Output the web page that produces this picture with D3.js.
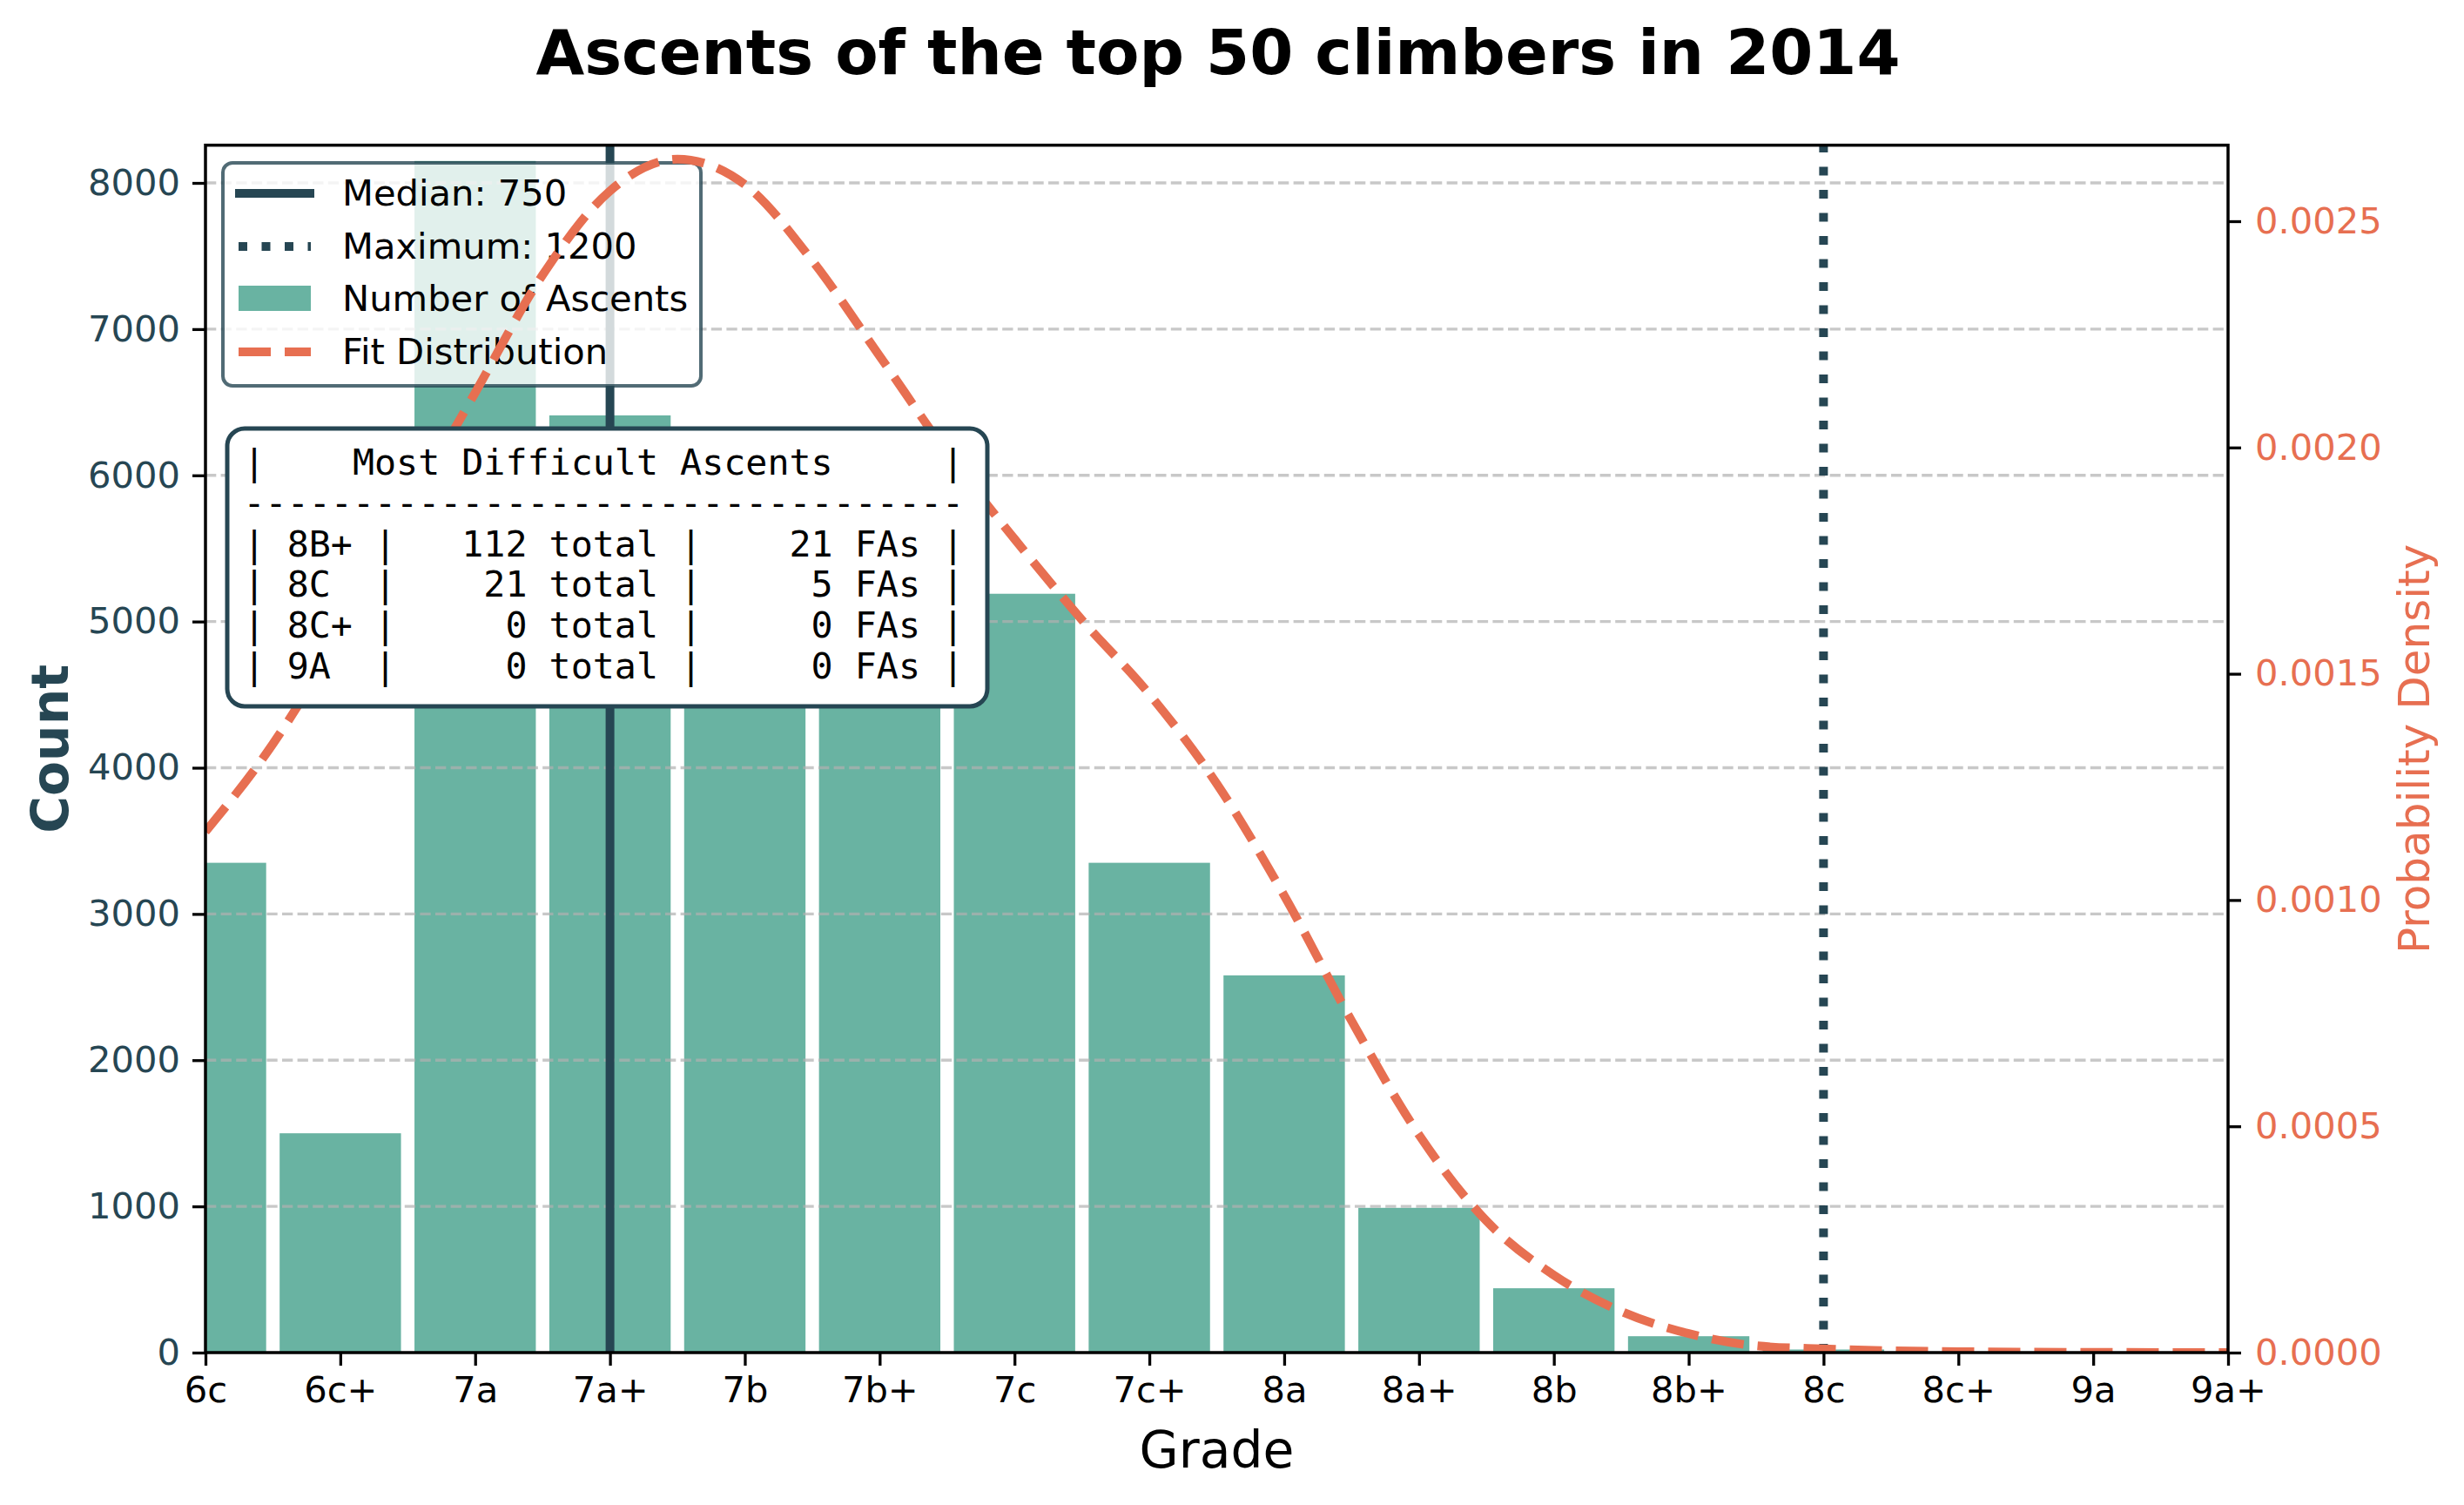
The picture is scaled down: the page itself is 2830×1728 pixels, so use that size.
<!DOCTYPE html>
<html>
<head>
<meta charset="utf-8">
<script src="https://cdn.jsdelivr.net/npm/d3@7"></script>
<style>
body { margin: 0; background: #ffffff; }
text { font-family: "DejaVu Sans", sans-serif; }
</style>
</head>
<body>
<svg></svg>
<script>
// data
var gradeLabels = ["6c","6c+","7a","7a+","7b","7b+","7c","7c+","8a","8a+","8b","8b+","8c","8c+","9a","9a+"]
var gradeScores = [600,650,700,750,800,850,900,950,1000,1050,1100,1150,1200,1250,1300,1350]
var ascentCounts = [3350,1500,8150,6410,5900,5600,5190,3350,2580,990,440,112,21,0,0,0]

var fitScores = [600,625,650,675,700,725,750,775,800,825,850,875,900,925,950,975,
                 1000,1025,1050,1075,1100,1125,1150,1175,1200,1225,1250,1275,1300,1325,1350]
var fitDensity = [0.001151,0.001345,0.001586,0.001859,0.002121,0.002381,0.002567,0.002637,
                  0.002581,0.002413,0.002202,0.001988,0.001798,0.001619,0.001455,0.001257,
                  0.001010,0.000733,0.000481,0.000291,0.000171,0.000091,0.000042,0.000015,
                  0.000008,0.000004,0.000002,0.000001,0.0000005,0.0000002,0.0000001]

var countTicks = [0,1000,2000,3000,4000,5000,6000,7000,8000]
var densityTicks = [0,0.0005,0.0010,0.0015,0.0020,0.0025]

var medianScore = 750
var maxScore = 1200

var tableTitle = "Most Difficult Ascents"
var tableGrades = ["8B+","8C","8C+","9A"]
var tableTotals = [112,21,0,0]
var tableFAs = [21,5,0,0]

var legendLabels = ["Median: 750","Maximum: 1200","Number of Ascents","Fit Distribution"]

//colours
var dark = "#264653"
var teal = "#69b3a2"
var orange = "#e76f51"

var screen = {width:2830, height:1728}
var plot = {left:236, right:2559, top:166.7, bottom:1553}

var svg = d3.select("svg")
    .attr("width", screen.width)
    .attr("height", screen.height)

svg.append("rect").attr("width", screen.width).attr("height", screen.height).attr("fill", "#fff")

svg.append("defs").append("clipPath").attr("id","plotclip")
    .append("rect")
    .attr("x", plot.left).attr("y", plot.top)
    .attr("width", plot.right - plot.left).attr("height", plot.bottom - plot.top)

var xScale = d3.scaleLinear()
    .domain([600,1350])
    .range([plot.left, plot.right])

var yScale = d3.scaleLinear()
    .domain([0,8258])
    .range([plot.bottom, plot.top])

var y2Scale = d3.scaleLinear()
    .domain([0,0.002668])
    .range([plot.bottom, plot.top])

var barW = xScale(645) - xScale(600)

//bars
svg.append("g").attr("clip-path","url(#plotclip)")
    .selectAll("rect")
    .data(ascentCounts)
    .enter()
    .append("rect")
    .attr("x", function(d,i){ return xScale(gradeScores[i]) - barW/2 })
    .attr("y", function(d){ return yScale(d) })
    .attr("width", barW)
    .attr("height", function(d){ return yScale(0) - yScale(d) })
    .attr("fill", teal)

//grid
svg.append("g")
    .selectAll("line")
    .data(countTicks.slice(1))
    .enter()
    .append("line")
    .attr("x1", plot.left).attr("x2", plot.right)
    .attr("y1", function(d){ return yScale(d) })
    .attr("y2", function(d){ return yScale(d) })
    .attr("stroke", "#b0b0b0")
    .attr("stroke-opacity", 0.7)
    .attr("stroke-width", 3.3)
    .attr("stroke-dasharray", "12.3,5.3")

//median and max lines
svg.append("line")
    .attr("x1", xScale(medianScore)).attr("x2", xScale(medianScore))
    .attr("y1", plot.bottom).attr("y2", plot.top)
    .attr("stroke", dark).attr("stroke-width", 10)

svg.append("line")
    .attr("x1", xScale(maxScore)).attr("x2", xScale(maxScore))
    .attr("y1", plot.bottom).attr("y2", plot.top)
    .attr("stroke", dark).attr("stroke-width", 10)
    .attr("stroke-dasharray", "10,16.5")

//legend
var legend = svg.append("g")
legend.append("rect")
    .attr("x", 256).attr("y", 187).attr("width", 549).attr("height", 256)
    .attr("rx", 11).attr("ry", 11)
    .attr("fill", "#fff").attr("fill-opacity", 0.8)
    .attr("stroke", dark).attr("stroke-opacity", 0.8).attr("stroke-width", 4)

var rowY = [222, 283, 343, 404]
legend.append("line").attr("x1", 270).attr("x2", 361).attr("y1", rowY[0]).attr("y2", rowY[0])
    .attr("stroke", dark).attr("stroke-width", 10)
legend.append("line").attr("x1", 274).attr("x2", 357).attr("y1", rowY[1]).attr("y2", rowY[1])
    .attr("stroke", dark).attr("stroke-width", 10).attr("stroke-dasharray", "10,16.5")
legend.append("rect").attr("x", 274).attr("y", rowY[2]-15).attr("width", 83).attr("height", 29)
    .attr("fill", teal)
legend.append("line").attr("x1", 274).attr("x2", 357).attr("y1", rowY[3]).attr("y2", rowY[3])
    .attr("stroke", orange).attr("stroke-width", 10).attr("stroke-dasharray", "37,16")

legend.selectAll("text.leg")
    .data(legendLabels)
    .enter()
    .append("text")
    .attr("class","leg")
    .attr("x", 393)
    .attr("y", function(d,i){ return rowY[i] + 14 })
    .attr("font-size", 41.67)
    .attr("fill", "#000")
    .text(function(d){ return d })

//fit curve (twin axis, drawn over the legend)
var fitLine = d3.line()
    .x(function(d,i){ return xScale(fitScores[i]) })
    .y(function(d){ return y2Scale(d) })
    .curve(d3.curveMonotoneX)

svg.append("path")
    .attr("clip-path","url(#plotclip)")
    .attr("d", fitLine(fitDensity))
    .attr("fill", "none")
    .attr("stroke", orange)
    .attr("stroke-width", 10)
    .attr("stroke-dasharray", "37,16")

//axes
var xAxis = d3.axisBottom(xScale).tickValues(gradeScores)
    .tickFormat(function(d,i){ return gradeLabels[i] })
    .tickSize(15).tickPadding(12)
var yAxis = d3.axisLeft(yScale).tickValues(countTicks)
    .tickFormat(d3.format("d")).tickSize(15).tickPadding(14)
var y2Axis = d3.axisRight(y2Scale).tickValues(densityTicks)
    .tickFormat(d3.format(".4f")).tickSize(15).tickPadding(16)

var gx = svg.append("g").attr("transform","translate(0,"+plot.bottom+")").call(xAxis)
var gy = svg.append("g").attr("transform","translate("+plot.left+",0)").call(yAxis)
var gy2 = svg.append("g").attr("transform","translate("+plot.right+",0)").call(y2Axis)

;[gx, gy, gy2].forEach(function(g){
    g.select(".domain").remove()
    g.selectAll(".tick line").attr("stroke", "#000").attr("stroke-width", 3.3)
    g.selectAll(".tick text").attr("font-size", 41.67).attr("font-family", "DejaVu Sans")
})
gx.selectAll(".tick text").attr("fill", "#000")
gy.selectAll(".tick text").attr("fill", dark)
gy2.selectAll(".tick text").attr("fill", orange)

//spines
svg.append("rect")
    .attr("x", plot.left).attr("y", plot.top)
    .attr("width", plot.right - plot.left).attr("height", plot.bottom - plot.top)
    .attr("fill", "none").attr("stroke", "#000").attr("stroke-width", 3.5)

//text box
var pad = function(s, n, left){
    s = String(s)
    while (s.length < n) s = left ? s + " " : " " + s
    return s
}
var boxLines = []
var inner = 31
var lp = Math.floor((inner - tableTitle.length)/2)
boxLines.push("|" + pad("", lp, true) + tableTitle + pad("", inner - lp - tableTitle.length, true) + "|")
boxLines.push(pad("", 33, true).replace(/ /g, "-"))
tableGrades.forEach(function(g,i){
    boxLines.push("| " + pad(g,4,true) + "| " + pad(tableTotals[i],5) + " total | " + pad(tableFAs[i],5) + " FAs |")
})

var box = svg.append("g")
box.append("rect")
    .attr("x", 261).attr("y", 492).attr("width", 873).attr("height", 319)
    .attr("rx", 20).attr("ry", 20)
    .attr("fill", "#fff").attr("stroke", dark).attr("stroke-width", 5)

box.selectAll("text")
    .data(boxLines)
    .enter()
    .append("text")
    .attr("x", 279.5)
    .attr("y", function(d,i){ return 545 + i*46.8 })
    .attr("font-size", 41.67)
    .style("font-family", "'DejaVu Sans Mono', monospace")
    .style("white-space", "pre")
    .attr("fill", "#000")
    .text(function(d){ return d })

//labels
svg.append("text")
    .attr("x", 1399).attr("y", 85)
    .attr("text-anchor", "middle")
    .attr("font-size", 72).attr("font-weight", "bold")
    .text("Ascents of the top 50 climbers in 2014")

svg.append("text")
    .attr("x", (plot.left + plot.right)/2).attr("y", 1685)
    .attr("text-anchor", "middle")
    .attr("font-size", 58.33)
    .text("Grade")

svg.append("text")
    .attr("transform", "translate(78,"+((plot.top+plot.bottom)/2)+") rotate(-90)")
    .attr("text-anchor", "middle")
    .attr("font-size", 58.33).attr("font-weight", "bold")
    .attr("fill", dark)
    .text("Count")

svg.append("text")
    .attr("transform", "translate(2790,"+((plot.top+plot.bottom)/2)+") rotate(-90)")
    .attr("text-anchor", "middle")
    .attr("font-size", 50)
    .attr("fill", orange)
    .text("Probability Density")
</script>
</body>
</html>
